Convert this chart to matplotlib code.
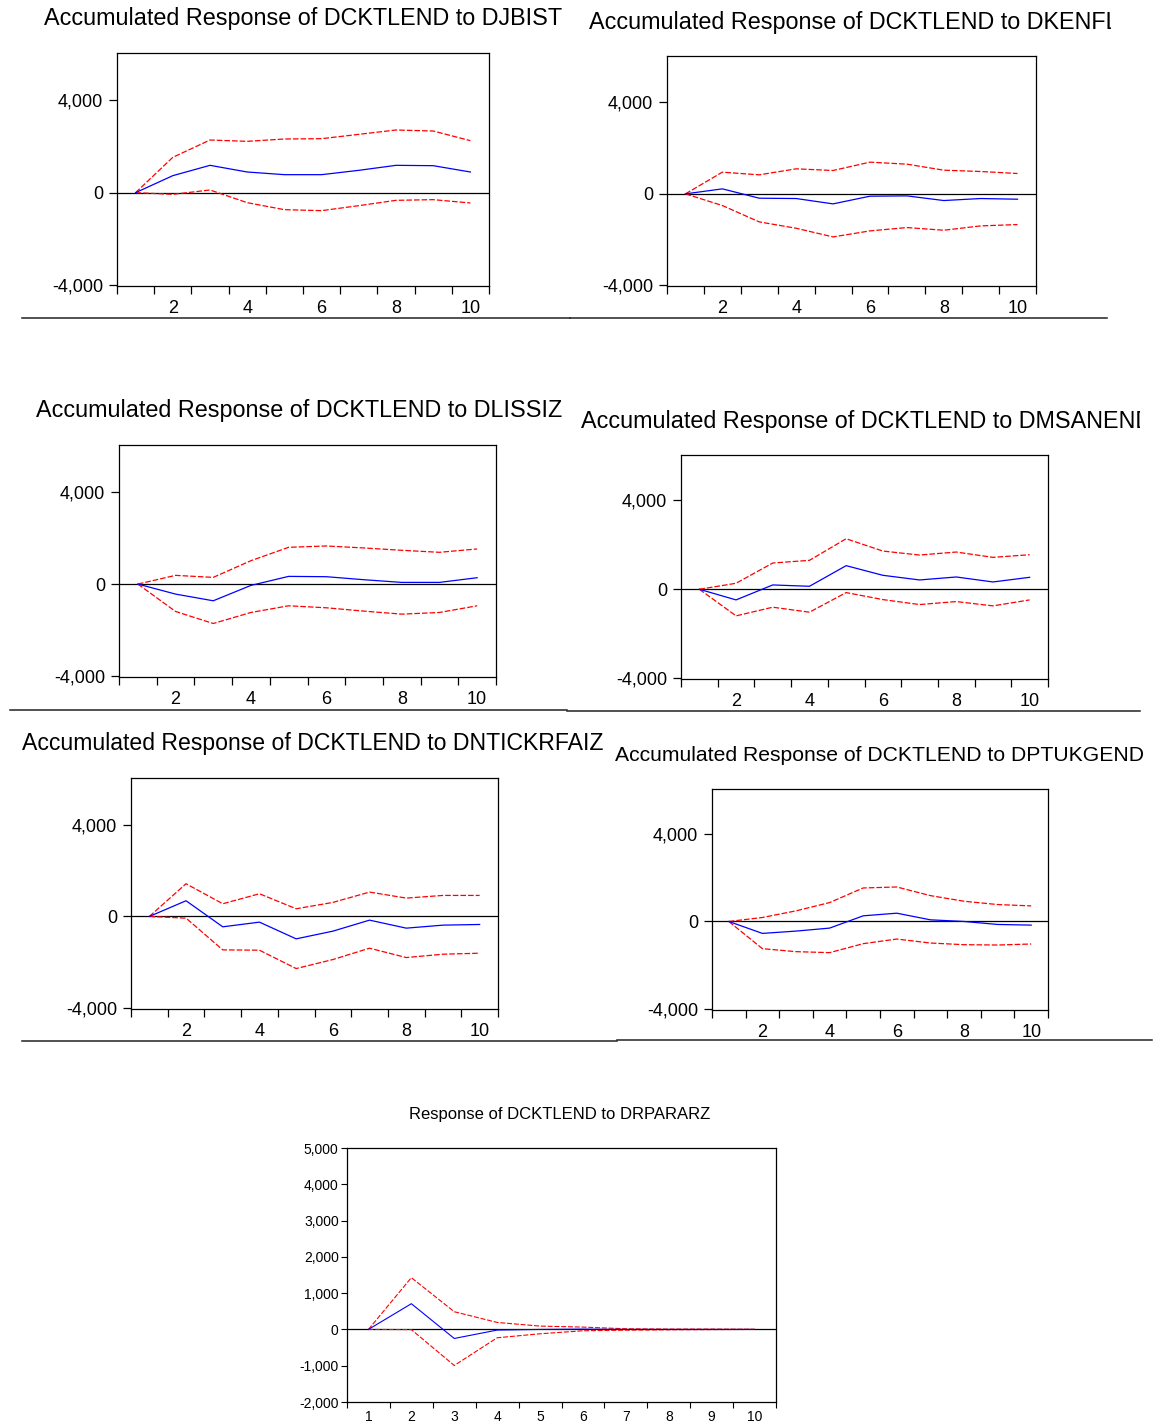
"""
Impulse responses of DCKTLEND (EViews-style panels), saved to out.png.
"""
import matplotlib
matplotlib.use("Agg")
import matplotlib.pyplot as plt
import numpy as np
from matplotlib.lines import Line2D
from matplotlib.transforms import Bbox
from matplotlib.ticker import FuncFormatter

plt.rcParams["font.family"] = ["Liberation Sans", "DejaVu Sans"]

W, H = 1153, 1423
periods = np.arange(1, 11)

# accumulated responses (point estimate, upper and lower +/- 2 s.e. bands)
djbist = [0, 734, 1180, 892, 777, 777, 964, 1180, 1165, 892]
djbist_hi = [0, 1525, 2273, 2216, 2317, 2331, 2518, 2705, 2662, 2245]
djbist_lo = [0, -72, 115, -432, -734, -777, -561, -331, -302, -446]

dkenfl = [0, 219, -190, -204, -438, -102, -88, -292, -204, -234]
dkenfl_hi = [0, 949, 832, 1095, 1022, 1387, 1299, 1036, 978, 891]
dkenfl_lo = [0, -511, -1226, -1504, -1883, -1620, -1474, -1591, -1401, -1343]

dlissiz = [0, -435, -725, -58, 333, 319, 188, 72, 72, 275]
dlissiz_hi = [0, 377, 290, 1014, 1594, 1652, 1565, 1464, 1377, 1522]
dlissiz_lo = [0, -1188, -1710, -1232, -942, -1029, -1174, -1304, -1232, -942]

dmsanend = [0, -478, 194, 134, 1060, 627, 418, 552, 328, 537]
dmsanend_hi = [0, 269, 1179, 1299, 2269, 1716, 1537, 1672, 1433, 1552]
dmsanend_lo = [0, -1194, -806, -1030, -149, -463, -687, -552, -746, -478]

dntickrfaiz = [0, 684, -451, -247, -975, -640, -160, -509, -378, -349]
dntickrfaiz_hi = [0, 1425, 553, 989, 335, 611, 1062, 800, 916, 916]
dntickrfaiz_lo = [0, -73, -1455, -1469, -2269, -1876, -1382, -1789, -1644, -1600]

dptukgend = [0, -543, -438, -302, 257, 377, 75, 0, -136, -166]
dptukgend_hi = [0, 181, 483, 860, 1525, 1570, 1177, 921, 770, 709]
dptukgend_lo = [0, -1238, -1374, -1419, -1011, -800, -981, -1057, -1072, -1026]

# non-accumulated response to DRPARARZ
drpararz = [0, 709, -249, -18, 0, 9, 0, 0, 0, 0]
drpararz_hi = [0, 1427, 488, 193, 92, 64, 18, 9, 9, 5]
drpararz_lo = [0, -5, -994, -230, -120, -37, -20, -10, -5, 0]

comma = FuncFormatter(lambda v, _: f"{v:,.0f}")

fig = plt.figure(figsize=(W / 100, H / 100), dpi=100)


def axes_px(left, top, right, bottom):
    return fig.add_axes([left / W, 1 - bottom / H, (right - left) / W, (bottom - top) / H])


def draw_irf(ax, mid, hi, lo, lw=0.9):
    ax.axhline(0, color="black", lw=0.9, zorder=1)
    ax.plot(periods, hi, color="red", lw=lw, dashes=(4.5, 1.6), zorder=2)
    ax.plot(periods, lo, color="red", lw=lw, dashes=(4.5, 1.6), zorder=2)
    ax.plot(periods, mid, color="blue", lw=lw, zorder=3)
    for s in ax.spines.values():
        s.set_linewidth(0.9)


def style_accum(ax):
    ax.set_xlim(0.5, 10.5)
    ax.set_ylim(-4030, 6030)
    ax.set_xticks(np.arange(0.5, 11, 1))
    ax.set_xticklabels([])
    ax.set_xticks([2, 4, 6, 8, 10], minor=True)
    ax.set_xticklabels(["2", "4", "6", "8", "10"], minor=True)
    ax.set_yticks([-4000, 0, 4000])
    ax.yaxis.set_major_formatter(comma)
    ax.tick_params(axis="x", which="major", direction="out", length=6, width=0.9)
    ax.tick_params(axis="x", which="minor", length=0, pad=10, labelsize=13)
    ax.tick_params(axis="y", direction="out", length=6, width=0.9, pad=4, labelsize=13)


panels = [
    ((117, 53, 489, 286), djbist, djbist_hi, djbist_lo),
    ((667, 56, 1036, 286), dkenfl, dkenfl_hi, dkenfl_lo),
    ((119, 445, 496, 677), dlissiz, dlissiz_hi, dlissiz_lo),
    ((681, 455, 1048, 679), dmsanend, dmsanend_hi, dmsanend_lo),
    ((131, 778, 498, 1009), dntickrfaiz, dntickrfaiz_hi, dntickrfaiz_lo),
    ((712, 789, 1048, 1010), dptukgend, dptukgend_hi, dptukgend_lo),
]
for box, mid, hi, lo in panels:
    ax = axes_px(*box)
    draw_irf(ax, mid, hi, lo)
    style_accum(ax)

# panel titles: (text, left x, centre y, size, right clip edge)
titles = [
    ("Accumulated Response of DCKTLEND to DJBIST", 44, 19, 16.8, None),
    ("Accumulated Response of DCKTLEND to DKENFL", 589, 23, 16.8, 1111),
    ("Accumulated Response of DCKTLEND to DLISSIZ", 36, 411, 16.8, None),
    ("Accumulated Response of DCKTLEND to DMSANEND", 581, 422, 16.8, 1140),
    ("Accumulated Response of DCKTLEND to DNTICKRFAIZ", 22, 744, 16.6, None),
    ("Accumulated Response of DCKTLEND to DPTUKGEND", 615, 756, 15.2, None),
]
for text, x, y, size, clip in titles:
    t = fig.text(x / W, 1 - y / H, text, fontsize=size, ha="left", va="center")
    if clip is not None:
        t.set_clip_on(True)
        t.set_clip_box(Bbox.from_extents(0, 0, clip, H))

# rules under each row of panels
rules = [
    (22, 570, 318), (570, 1107, 318),
    (10, 567, 710), (567, 1140, 711),
    (22, 617, 1041), (617, 1152, 1040),
]
for x0, x1, y in rules:
    fig.add_artist(Line2D([x0 / W, x1 / W], [1 - y / H, 1 - y / H],
                          color="#222222", lw=1.1, transform=fig.transFigure))

# bottom panel: plain response to DRPARARZ
ax = axes_px(347, 1148, 776, 1402)
draw_irf(ax, drpararz, drpararz_hi, drpararz_lo, lw=0.8)
ax.set_xlim(0.5, 10.5)
ax.set_ylim(-2000, 5000)
ax.set_xticks(np.arange(0.5, 11, 1))
ax.set_xticklabels([])
ax.set_xticks(periods, minor=True)
ax.set_xticklabels([str(p) for p in periods], minor=True)
ax.set_yticks(np.arange(-2000, 5001, 1000))
ax.yaxis.set_major_formatter(comma)
ax.tick_params(axis="x", which="major", direction="out", length=4, width=0.8)
ax.tick_params(axis="x", which="minor", length=0, pad=6, labelsize=10)
ax.tick_params(axis="y", direction="out", length=4, width=0.8, pad=2, labelsize=10)
fig.text(560 / W, 1 - 1115 / H, "Response of DCKTLEND to DRPARARZ",
         fontsize=12, ha="center", va="center")

fig.savefig("out.png", dpi=100)
